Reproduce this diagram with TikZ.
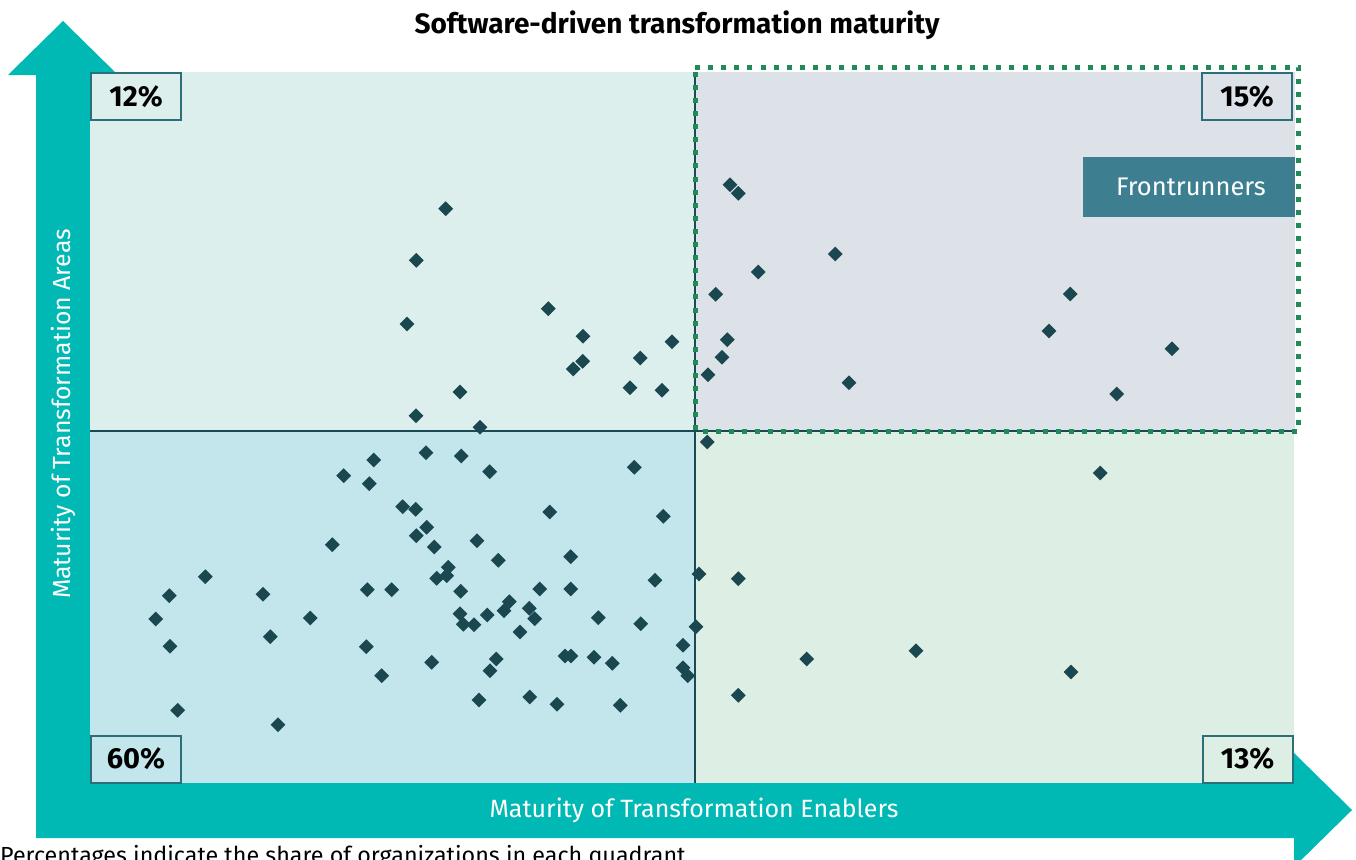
\documentclass[tikz,border=0pt]{standalone}
\usepackage{fontspec}
\setmainfont{Fira Sans}
\usetikzlibrary{shapes.geometric}
\definecolor{arrowc}{HTML}{00B8B4}
\definecolor{tlc}{HTML}{DCEFEC}
\definecolor{trc}{HTML}{DDE1E8}
\definecolor{blc}{HTML}{C2E6EB}
\definecolor{brc}{HTML}{DDEEE4}
\definecolor{dotc}{HTML}{1A4750}
\definecolor{linec}{HTML}{1D4954}
\definecolor{boxc}{HTML}{2C6E79}
\definecolor{frontc}{HTML}{3D7F91}
\definecolor{greenc}{HTML}{208B58}
\begin{document}
\begin{tikzpicture}[x=1pt,y=-1pt,
  pt/.style={diamond, fill=dotc, inner sep=0pt, minimum width=15pt, minimum height=15pt},
  pbox/.style={draw=boxc, line width=2pt, inner sep=0pt, minimum width=90pt, minimum height=47pt,
    font=\fontsize{29}{34}\selectfont\bfseries},
  axlabel/.style={text=white, inner sep=0pt},
]
\useasboundingbox (0,0) rectangle (1356,859);
% arrows
\fill[arrowc] (36,838) -- (36,75) -- (8,75) -- (63,21) -- (118,75) -- (90,75) -- (90,783)
  -- (1294,783) -- (1294,753) -- (1352,810) -- (1294,867) -- (1294,838) -- cycle;
% quadrants
\fill[tlc] (90,72) rectangle (695,431);
\fill[trc] (695,72) rectangle (1295,431);
\fill[blc] (90,431) rectangle (695,783);
\fill[brc] (695,431) rectangle (1294,783);
\draw[linec, line width=1.5pt] (90,431) -- (1295,431);
\draw[linec, line width=1.5pt] (695,72) -- (695,783);
% frontrunners frame
\draw[greenc, line width=5pt, dash pattern=on 5pt off 8.1pt] (695,67) -- (1298.7,67) -- (1298.7,431) -- (695,431) -- cycle;
% labels
\node[font=\fontsize{28}{33}\selectfont\bfseries, inner sep=0pt] (title) at (677,25) {Software-driven transformation maturity};
\node[pbox, fill=tlc] (q12) at (136,96.5) {12\%};
\node[pbox, fill=trc] (q15) at (1247,96.5) {15\%};
\node[pbox, fill=blc] (q60) at (136,759) {60\%};
\node[pbox, fill=brc] (q13) at (1247.5,759) {13\%};
\node[fill=frontc, text=white, minimum width=212pt, minimum height=60pt, inner sep=0pt,
  font=\fontsize{25.5}{30}\selectfont] (front) at (1189,187) {\hspace*{4pt}Frontrunners};
\node[axlabel, font=\fontsize{25}{30}\selectfont] (xlab) at (694,810) {Maturity of Transformation Enablers};
\node[axlabel, rotate=90, font=\fontsize{24.8}{29}\selectfont] (ylab) at (63,414) {Maturity of Transformation Areas};
\node[anchor=north west, inner sep=0pt, font=\fontsize{23.3}{28}\selectfont] (note) at (0,845) {Percentages indicate the share of organizations in each quadrant};
% points
\foreach \px/\py [count=\i] in {
 445.7/208.7, 416.3/260.3, 407/324, 548.3/308.7, 583/336.3, 582.7/361.3, 573.3/369, 640.3/358,
 672/341.7, 630/387.7, 662/390.3, 460/392, 416/415.7, 480/427.3,
 730/184.7, 738.3/193.3, 835.3/254, 758.3/272, 715.7/294.3, 1070.3/294, 1049/331, 727.3/339.7,
 1172/348.7, 722/357.3, 708/374.7, 849/382.7, 1116.7/394,
 707.3/442, 1100.3/473, 699/574, 738.3/578.7, 696/626.7, 806.7/659, 916/650.7, 1071/672, 738.3/695.3,
 373.7/460, 343.7/475.7, 369.3/483.7, 332.3/544.7, 205.3/576.7, 169.3/595.7, 155.7/619, 170/646.3,
 263/594.3, 310.3/618, 270.3/636.7, 367.3/589.7, 391.7/589.7, 366.3/646.7, 381.7/675.7, 177.7/710.3, 278/724.7,
 426/452.7, 461.3/456, 489.7/471.7, 402.7/506.7, 415.7/509.3, 426.7/527.3, 416.3/535.7, 434.3/547,
 477/540.7, 498.3/560.3, 448.3/567.3, 436.7/578.3, 446.7/575.7, 460.7/591.3, 460/613.7, 463.3/624.3,
 474/624.7, 487.3/615, 509.3/601.7, 504/610.7, 431.7/662.3, 496.3/659, 490/670.7, 479/700,
 634.3/467.3, 549.7/512, 663.3/516.3, 570.7/556.7, 539.7/589, 570.7/589, 529.3/608.3, 534.7/618.7,
 520/632, 598.3/617.7, 655/580.3, 640.7/623.7, 683/645.3, 565/656, 571/656, 594/657.3, 612.3/663.3,
 683/667.7, 687.7/675.7, 529.7/697, 557/704.3, 620.3/705.3}
 \node[pt] (p\i) at (\px,\py) {};
\end{tikzpicture}
\end{document}
